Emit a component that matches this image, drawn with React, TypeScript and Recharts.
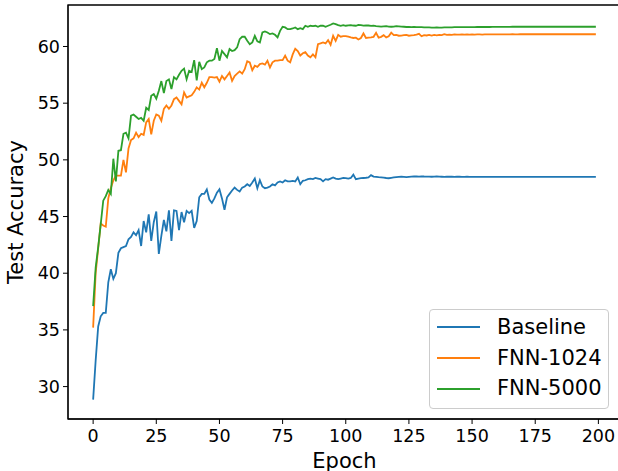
import { LineChart, Line, XAxis, YAxis, ReferenceArea, Legend } from "recharts";

// test accuracy per epoch (0..199)
const baseline = [
  28.85, 32.3, 35.3, 36.2, 36.5, 36.5, 39.2, 40.35, 39.5, 40.0,
  41.8, 42.2, 42.3, 42.4, 43.0, 43.2, 43.6, 43.35, 43.8, 42.4,
  44.6, 43.6, 45.2, 42.85, 44.5, 45.45, 41.7, 43.3, 44.7, 43.7,
  45.55, 42.85, 45.55, 45.5, 43.8, 45.4, 44.5, 45.5, 45.3, 45.5,
  44.0, 44.6, 46.7, 47.0, 47.0, 47.4, 46.5, 46.2, 46.6, 47.1,
  47.4, 46.6, 45.6, 46.7, 47.0, 47.3, 47.55, 47.35, 47.2, 47.55,
  47.65, 47.85, 47.7, 48.0, 48.35, 47.5, 48.2, 47.65, 47.5, 47.55,
  47.65, 47.85, 47.75, 48.0, 48.1, 48.0, 48.2, 48.1, 48.1, 48.15,
  48.1, 48.45, 47.85, 48.15, 48.2, 48.3, 48.35, 48.3, 48.4, 48.35,
  48.3, 48.1, 48.3, 48.25, 48.35, 48.45, 48.35, 48.3, 48.35, 48.4,
  48.38, 48.35, 48.4, 48.7, 48.3, 48.35, 48.38, 48.4, 48.42, 48.45,
  48.65, 48.52, 48.5, 48.47, 48.45, 48.43, 48.4, 48.38, 48.42, 48.45,
  48.48, 48.5, 48.52, 48.5, 48.48, 48.5, 48.52, 48.53, 48.53, 48.52,
  48.55, 48.53, 48.52, 48.52, 48.51, 48.52, 48.53, 48.52, 48.51, 48.5,
  48.51, 48.52, 48.51, 48.5, 48.51, 48.51, 48.5, 48.5, 48.51, 48.5,
  48.5, 48.49, 48.5, 48.5, 48.5, 48.49, 48.49, 48.5, 48.5, 48.49,
  48.49, 48.49, 48.5, 48.49, 48.49, 48.49, 48.49, 48.49, 48.5, 48.49,
  48.49, 48.49, 48.49, 48.49, 48.49, 48.49, 48.49, 48.49, 48.49, 48.49,
  48.49, 48.49, 48.49, 48.49, 48.49, 48.49, 48.49, 48.49, 48.49, 48.49,
  48.49, 48.49, 48.49, 48.49, 48.49, 48.49, 48.49, 48.49, 48.49, 48.49,
];

const fnn1024 = [
  35.2, 40.0, 42.2, 44.4, 44.2, 44.1, 46.6, 47.5, 48.2, 48.6,
  48.6, 48.6, 50.0, 48.9, 51.0, 51.75, 51.9, 52.4, 52.0, 52.3,
  52.2, 53.3, 53.6, 52.25, 53.45, 54.0, 53.9, 53.45, 54.5, 54.8,
  54.5, 54.8, 55.35, 55.5, 55.2, 54.9, 55.95, 55.5, 55.6, 55.7,
  56.0, 56.4, 56.2, 56.8, 56.4, 56.8, 57.3, 57.3, 57.25, 57.3,
  56.9, 57.4, 57.1, 57.4, 57.7, 56.97, 57.4, 57.6, 57.8, 57.6,
  58.0, 58.7, 58.6, 57.9, 58.3, 58.2, 58.45, 58.5, 58.4, 58.75,
  58.15, 58.6, 58.75, 58.75, 58.8, 58.8, 59.2, 58.75, 58.6, 59.3,
  59.8, 59.6, 59.2, 59.4, 59.5, 59.2, 59.05, 59.3, 59.05, 60.2,
  60.27, 60.36, 60.27, 60.56, 60.15, 60.94, 60.5, 61.03, 60.86, 60.92,
  60.92, 60.86, 60.8, 60.75, 60.78, 60.62, 60.75, 61.15, 60.75, 60.78,
  60.8, 60.85, 61.2, 60.78, 60.85, 61.0, 60.8, 60.9, 61.22, 61.0,
  61.03, 60.95, 60.96, 61.0, 61.03, 60.95, 60.98, 61.0, 61.05, 61.12,
  60.9, 61.0, 60.97, 61.02, 60.96, 61.02, 60.98, 61.03, 61.0, 61.08,
  61.02, 61.05, 61.03, 61.06, 61.04, 61.05, 61.07, 61.05, 61.06, 61.05,
  61.06, 61.05, 61.06, 61.06, 61.05, 61.06, 61.06, 61.07, 61.06, 61.06,
  61.07, 61.06, 61.07, 61.07, 61.07, 61.07, 61.08, 61.07, 61.07, 61.08,
  61.08, 61.08, 61.08, 61.08, 61.08, 61.08, 61.08, 61.08, 61.08, 61.08,
  61.08, 61.08, 61.08, 61.08, 61.08, 61.08, 61.08, 61.08, 61.08, 61.08,
  61.08, 61.08, 61.08, 61.08, 61.08, 61.08, 61.08, 61.08, 61.08, 61.08,
];

const fnn5000 = [
  37.1, 40.5, 42.3, 44.3, 46.4, 46.8, 47.35, 47.0, 50.1, 48.1,
  50.8, 50.85, 52.3, 52.4, 51.9, 53.9, 54.0, 53.8, 53.6, 53.7,
  53.45, 54.6, 54.4, 55.65, 55.8, 55.4, 56.1, 56.95, 55.9, 56.95,
  57.1, 56.25, 57.3, 57.1, 57.5, 57.85, 58.05, 57.1, 57.85, 57.75,
  58.8, 57.0, 58.65, 58.0, 58.15, 58.6, 58.75, 58.75, 58.9, 59.85,
  58.75, 59.6, 59.33, 59.05, 59.77, 59.6, 59.68, 59.92, 60.65, 60.86,
  60.86, 60.5, 60.2, 60.36, 60.94, 60.45, 60.36, 61.24, 61.33, 61.24,
  61.09, 61.15, 61.03, 60.8, 61.38, 61.74, 61.68, 61.53, 61.53, 61.59,
  61.68, 61.53, 61.62, 61.53, 61.83, 61.74, 61.83, 61.8, 61.83, 61.74,
  61.83, 61.83, 61.74, 61.83, 61.92, 62.04, 61.98, 61.89, 61.83, 61.89,
  61.83, 61.86, 61.88, 61.85, 61.83, 61.9, 61.88, 61.84, 61.86, 61.85,
  61.82, 61.84, 61.8, 61.78, 61.76, 61.78, 61.8, 61.76, 61.74, 61.75,
  61.8, 61.78, 61.75, 61.74, 61.72, 61.73, 61.71, 61.72, 61.7, 61.7,
  61.7, 61.69, 61.68, 61.68, 61.67, 61.67, 61.68, 61.67, 61.67, 61.68,
  61.68, 61.69, 61.69, 61.7, 61.7, 61.7, 61.7, 61.71, 61.71, 61.71,
  61.71, 61.71, 61.72, 61.72, 61.72, 61.72, 61.72, 61.72, 61.73, 61.73,
  61.73, 61.73, 61.73, 61.73, 61.73, 61.73, 61.74, 61.74, 61.74, 61.74,
  61.74, 61.74, 61.74, 61.74, 61.74, 61.74, 61.74, 61.74, 61.74, 61.74,
  61.74, 61.74, 61.74, 61.74, 61.74, 61.74, 61.74, 61.74, 61.74, 61.74,
  61.74, 61.74, 61.74, 61.74, 61.74, 61.74, 61.74, 61.74, 61.74, 61.74,
];

const xTicks = [0, 25, 50, 75, 100, 125, 150, 175, 200];
const yTicks = [30, 35, 40, 45, 50, 55, 60];

const data = baseline.map((b, i) => ({
  epoch: i,
  baseline: b,
  fnn1024: fnn1024[i],
  fnn5000: fnn5000[i],
}));

const FONT = "DejaVu Sans";
const X_DOMAIN: [number, number] = [-9.95, 208.95];
const Y_DOMAIN: [number, number] = [27.14, 63.66];

function YLabel(props: any) {
  const vb = props.viewBox || {};
  const cy = vb.y + vb.height / 2;
  return (
    <text
      x={23}
      y={cy}
      transform={`rotate(-90, 23, ${cy})`}
      textAnchor="middle"
      fontFamily={FONT}
      fontSize={21}
      fill="#000"
    >
      Test Accuracy
    </text>
  );
}

function LegendBox(props: any) {
  const items = props.payload || [];
  return (
    <div
      style={{
        boxSizing: "border-box",
        width: 180,
        height: 100,
        border: "1px solid #cccccc",
        borderRadius: 4,
        background: "rgba(255,255,255,0.8)",
        paddingTop: 2,
        fontFamily: FONT,
        fontSize: 21,
        color: "#000",
      }}
    >
      {items.map((it: any) => (
        <div
          key={it.value}
          style={{ display: "flex", alignItems: "center", height: 30.8 }}
        >
          <div
            style={{
              marginLeft: 7,
              width: 43,
              height: 2,
              background: it.color,
            }}
          />
          <span style={{ marginLeft: 17, lineHeight: 1 }}>{it.value}</span>
        </div>
      ))}
    </div>
  );
}

export default function App() {
  return (
    <div
      style={{
        position: "fixed",
        left: 0,
        top: 0,
        width: 618,
        height: 471,
        overflow: "hidden",
        background: "#fff",
      }}
    >
      <LineChart
        width={630}
        height={471}
        data={data}
        margin={{ top: 5, right: 9, left: 0, bottom: 0 }}
      >
        <XAxis
          dataKey="epoch"
          type="number"
          domain={X_DOMAIN}
          ticks={xTicks}
          allowDataOverflow
          height={52}
          stroke="#000"
          tickSize={5}
          tickMargin={6}
          tick={{ fontFamily: FONT, fontSize: 17.5, fill: "#000" }}
          label={{
            value: "Epoch",
            position: "insideBottom",
            offset: 3,
            style: { fontFamily: FONT, fontSize: 21, fill: "#000" },
          }}
        />
        <YAxis
          type="number"
          domain={Y_DOMAIN}
          ticks={yTicks}
          allowDataOverflow
          width={68}
          stroke="#000"
          tickSize={5}
          tickMargin={3}
          tick={{ fontFamily: FONT, fontSize: 17.5, fill: "#000" }}
          label={<YLabel />}
        />
        <ReferenceArea
          x1={X_DOMAIN[0]}
          x2={X_DOMAIN[1]}
          y1={Y_DOMAIN[0]}
          y2={Y_DOMAIN[1]}
          fill="none"
          stroke="#000"
          strokeWidth={1.3}
          ifOverflow="visible"
        />
        <Line
          dataKey="baseline"
          name="Baseline"
          stroke="#1f77b4"
          strokeWidth={1.8}
          dot={false}
          isAnimationActive={false}
        />
        <Line
          dataKey="fnn1024"
          name="FNN-1024"
          stroke="#ff7f0e"
          strokeWidth={1.8}
          dot={false}
          isAnimationActive={false}
        />
        <Line
          dataKey="fnn5000"
          name="FNN-5000"
          stroke="#2ca02c"
          strokeWidth={1.8}
          dot={false}
          isAnimationActive={false}
        />
        <Legend
          layout="vertical"
          align="center"
          verticalAlign="middle"
          content={<LegendBox />}
          wrapperStyle={{ left: 429, top: 309, width: 180, height: 100 }}
        />
      </LineChart>
    </div>
  );
}
